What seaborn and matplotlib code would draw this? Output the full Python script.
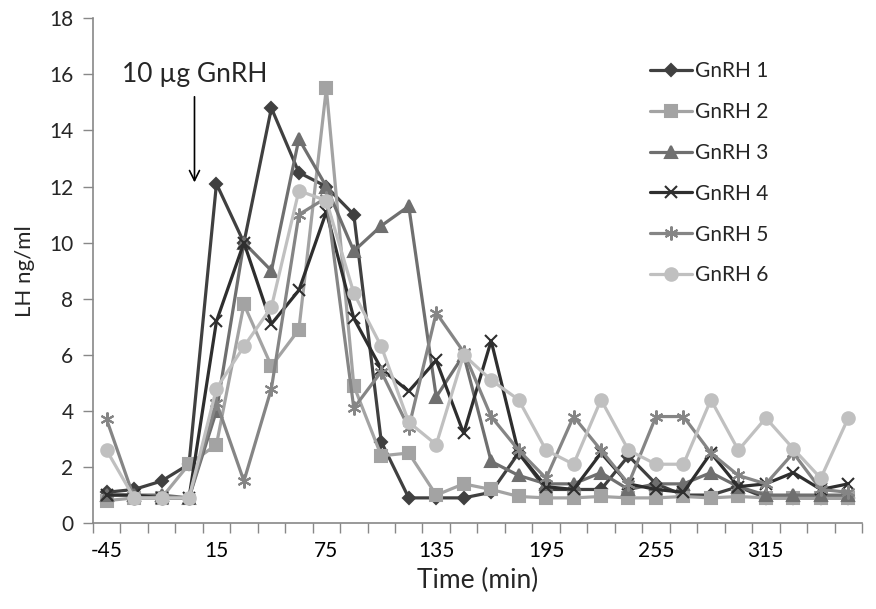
import numpy as np
import pandas as pd
import matplotlib
matplotlib.use("Agg")
import matplotlib.pyplot as plt
import seaborn as sns

# ---- data ----
times = [-45, -30, -15, 0, 15, 30, 45, 60, 75, 90, 105, 120, 135, 150, 165, 180,
         195, 210, 225, 240, 255, 270, 285, 300, 315, 330, 345, 360]
tick_labels = ["-45", "15", "75", "135", "195", "255", "315"]

gnrh1 = [1.1, 1.2, 1.5, 2.1, 12.1, 10.0, 14.8, 12.5, 12.0, 11.0, 2.9, 0.9, 0.9, 0.9,
         1.1, 2.5, 1.2, 1.2, 1.2, 2.4, 1.4, 1.0, 1.0, 1.3, 0.9, 0.9, 0.9, 0.9]
gnrh2 = [0.8, 0.9, 0.9, 2.1, 2.8, 7.8, 5.6, 6.9, 15.5, 4.9, 2.4, 2.5, 1.0, 1.4,
         1.2, 0.95, 0.9, 0.9, 0.95, 0.9, 0.9, 0.95, 0.9, 0.95, 0.9, 0.9, 0.9, 0.9]
gnrh3 = [1.0, 1.0, 1.0, 0.9, 4.0, 10.0, 9.0, 13.7, 12.0, 9.7, 10.6, 11.3, 4.5, 6.0,
         2.2, 1.7, 1.4, 1.4, 1.8, 1.2, 1.4, 1.4, 1.8, 1.3, 1.0, 1.0, 1.0, 1.0]
gnrh4 = [1.0, 1.0, 0.9, 0.9, 7.2, 10.0, 7.1, 8.3, 11.1, 7.3, 5.5, 4.7, 5.8, 3.2,
         6.5, 2.5, 1.3, 1.2, 2.5, 1.4, 1.2, 1.1, 2.5, 1.3, 1.4, 1.8, 1.2, 1.4]
gnrh5 = [3.7, 0.9, 0.9, 0.9, 4.3, 1.5, 4.8, 11.0, 11.6, 4.1, 5.4, 3.4, 7.5, 6.1,
         3.8, 2.6, 1.6, 3.8, 2.6, 1.4, 3.8, 3.8, 2.5, 1.7, 1.4, 2.5, 1.2, 1.1]
gnrh6 = [2.6, 0.9, 0.9, 0.9, 4.8, 6.3, 7.7, 11.85, 11.5, 8.2, 6.3, 3.6, 2.8, 6.0,
         5.1, 4.4, 2.6, 2.1, 4.4, 2.6, 2.1, 2.1, 4.4, 2.6, 3.75, 2.65, 1.6, 3.75]

series_names = ["GnRH 1", "GnRH 2", "GnRH 3", "GnRH 4", "GnRH 5", "GnRH 6"]
series_vals = [gnrh1, gnrh2, gnrh3, gnrh4, gnrh5, gnrh6]

colors = ["#404040", "#a3a3a3", "#6f6f6f", "#2e2e2e", "#858585", "#c0c0c0"]
markers = ["D", "s", "^", "x", (6, 2, 0), "o"]
msizes = [6, 8, 9, 8, 10, 9]

sns.set_theme(style="white")
plt.rcParams["font.family"] = ["Lato", "DejaVu Sans"]

fig = plt.figure(figsize=(8.76, 6.09), dpi=100)
ax = fig.add_axes([0.106, 0.141, 0.878, 0.829])

pos = list(range(len(times)))
for name, vals, c, m, ms in zip(series_names, series_vals, colors, markers, msizes):
    df = pd.DataFrame({"pos": pos, "val": vals})
    sns.lineplot(data=df, x="pos", y="val", ax=ax, color=c, marker=m,
                 markersize=ms, linewidth=2.3, markeredgecolor=c,
                 markeredgewidth=1.5, label=name)

ax.set_xlim(-0.5, len(times) - 0.5)
ax.set_ylim(0, 18)
ax.set_yticks(np.arange(0, 19, 2))
lab_pos = [times.index(int(t)) for t in tick_labels]
ax.set_xticks(lab_pos)
ax.set_xticklabels(tick_labels)
ax.set_xticks(np.arange(-0.5, len(times), 1.0), minor=True)
ax.tick_params(axis="x", which="major", length=0, pad=13, labelsize=15, colors="#000000")
ax.tick_params(axis="x", which="minor", length=7, width=1, color="#888888", direction="out", bottom=True)
ax.tick_params(axis="y", which="major", length=7, width=1, color="#888888", direction="out",
               left=True, labelsize=15, pad=7)

for s in ["top", "right"]:
    ax.spines[s].set_visible(False)
for s in ["left", "bottom"]:
    ax.spines[s].set_color("#888888")
    ax.spines[s].set_linewidth(1.2)

ax.set_xlabel("Time (min)", fontsize=19, labelpad=5)
ax.set_ylabel("LH ng/ml", fontsize=16, labelpad=10)

ax.annotate("", xy=(3.2, 12.05), xytext=(3.2, 15.3),
            arrowprops=dict(arrowstyle="->", color="black", lw=1.2, mutation_scale=18))
ax.text(3.2, 16.0, "10 µg GnRH", fontsize=19, ha="center", va="center")

leg = ax.legend(loc="upper left", bbox_to_anchor=(0.70, 0.952), frameon=False,
                fontsize=15, labelspacing=1.0, handlelength=2.0, handletextpad=0.15)

fig.savefig("out.png", dpi=100)
